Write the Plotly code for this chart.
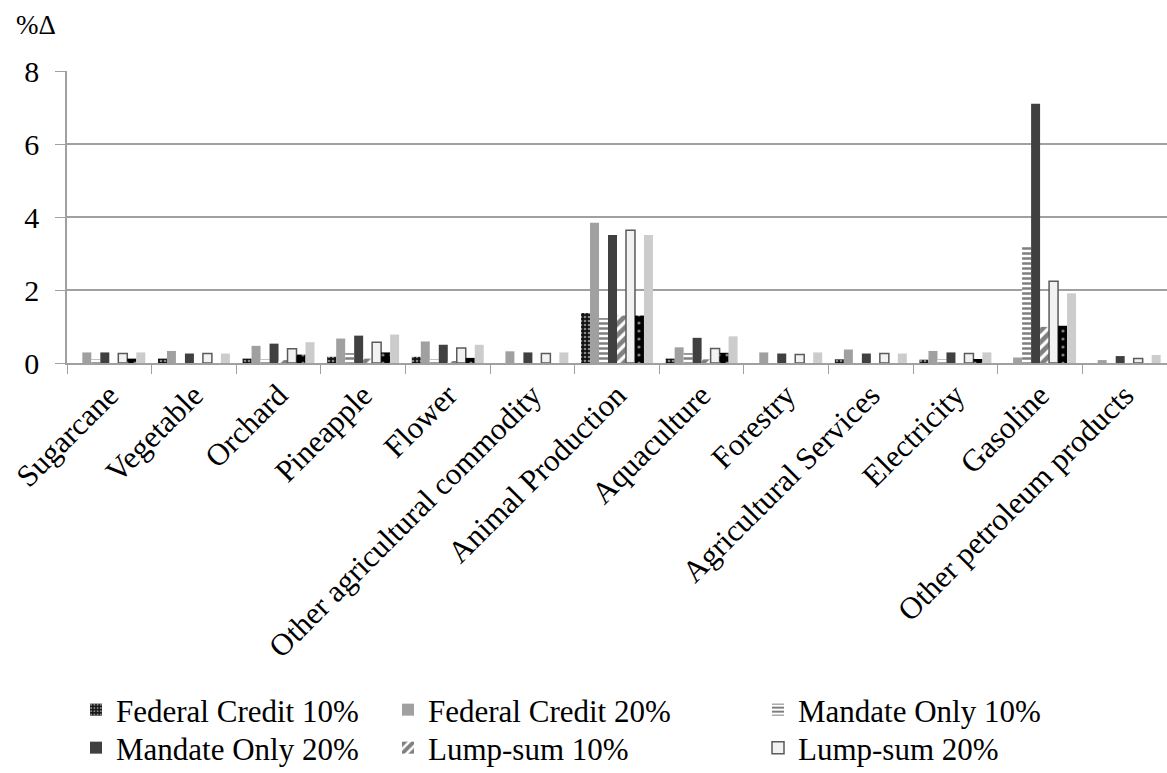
import plotly.graph_objects as go

categories = ["Sugarcane", "Vegetable", "Orchard", "Pineapple", "Flower",
              "Other agricultural commodity", "Animal Production", "Aquaculture",
              "Forestry", "Agricultural Services", "Electricity", "Gasoline",
              "Other petroleum products"]

federal_credit_10 = [0.0, 0.12, 0.12, 0.17, 0.17, 0.0, 1.37, 0.12, 0.0, 0.10, 0.09, 0.0, 0.0]
federal_credit_20 = [0.29, 0.33, 0.47, 0.67, 0.59, 0.32, 3.84, 0.43, 0.29, 0.37, 0.33, 0.15, 0.08]
mandate_only_10 = [0.10, 0.0, 0.10, 0.27, 0.10, 0.0, 1.23, 0.27, 0.0, 0.0, 0.10, 3.21, 0.0]
mandate_only_20 = [0.29, 0.26, 0.53, 0.75, 0.50, 0.29, 3.51, 0.69, 0.26, 0.26, 0.29, 7.10, 0.19]
lump_sum_10 = [0.0, 0.0, 0.08, 0.12, 0.05, 0.0, 1.30, 0.10, 0.0, 0.0, 0.0, 0.99, 0.0]
lump_sum_20 = [0.26, 0.26, 0.39, 0.57, 0.41, 0.26, 3.64, 0.40, 0.23, 0.26, 0.26, 2.24, 0.12]
series_7 = [0.12, 0.0, 0.23, 0.29, 0.14, 0.0, 1.30, 0.28, 0.0, 0.0, 0.11, 1.02, 0.0]
series_8 = [0.29, 0.26, 0.57, 0.78, 0.50, 0.29, 3.51, 0.73, 0.29, 0.26, 0.29, 1.91, 0.22]

y_ticks = [0, 2, 4, 6, 8]

FONT = "Liberation Serif, DejaVu Serif, serif"

fig = go.Figure()

def add(name, vals, color, legend, pattern=None, line_color=None, line_width=0, show=True):
    marker = dict(color=color, line=dict(color=line_color or color, width=line_width))
    if pattern:
        marker["pattern"] = pattern
    fig.add_trace(go.Bar(x=categories, y=vals, name=name, marker=marker,
                         legend=legend, showlegend=show))

add("Federal Credit 10%", federal_credit_10, "black", "legend",
    pattern=dict(shape=".", fgcolor="white", bgcolor="#111111", size=4, solidity=0.35, fillmode="overlay"))
add("Federal Credit 20%", federal_credit_20, "#a0a0a0", "legend2")
add("Mandate Only 10%", mandate_only_10, "white", "legend3",
    pattern=dict(shape="-", fgcolor="black", bgcolor="white", size=5, solidity=0.5, fillmode="overlay"))
add("Mandate Only 20%", mandate_only_20, "#404040", "legend4")
add("Lump-sum 10%", lump_sum_10, "white", "legend5",
    pattern=dict(shape="/", fgcolor="black", bgcolor="white", size=8, solidity=0.6, fillmode="overlay"))
add("Lump-sum 20%", lump_sum_20, "#f2f2f2", "legend6", line_color="#5a5a5a", line_width=1.5)
add("Scenario 7", series_7, "black", "legend",
    pattern=dict(shape=".", fgcolor="white", bgcolor="black", size=8, solidity=0.12, fillmode="overlay"),
    show=False)
add("Scenario 8", series_8, "#cccccc", "legend", show=False)

def leg(px, py):
    return dict(orientation="v", xref="container", yref="container",
                yanchor="middle", xanchor="left", x=px / 1167, y=1 - py / 773,
                font=dict(family=FONT, size=31, color="black"),
                bgcolor="rgba(0,0,0,0)", itemwidth=30)

col_x = [76, 388, 758]
row_y = [710, 748]

fig.update_layout(
    width=1167, height=773,
    margin=dict(l=67, r=0, t=71, b=410, autoexpand=False),
    paper_bgcolor="white", plot_bgcolor="white",
    barmode="group", bargap=0.15, bargroupgap=0,
    font=dict(family=FONT, color="black"),
    legend=leg(col_x[0], row_y[0]),
    legend2=leg(col_x[1], row_y[0]),
    legend3=leg(col_x[2], row_y[0]),
    legend4=leg(col_x[0], row_y[1]),
    legend5=leg(col_x[1], row_y[1]),
    legend6=leg(col_x[2], row_y[1]),
    xaxis=dict(showline=True, linecolor="#a0a0a0", linewidth=1.5, automargin=False,
               ticks="outside", tickson="boundaries", ticklen=9, tickcolor="#a0a0a0",
               tickangle=-45, tickfont=dict(family=FONT, size=31, color="black"),
               showgrid=False),
    yaxis=dict(range=[0, 8], tickvals=y_ticks, showline=True, linecolor="#a0a0a0",
               linewidth=1.5, ticks="outside", ticklen=10, tickcolor="#a0a0a0",
               automargin=False,
               showgrid=True, gridcolor="#a0a0a0", gridwidth=1.5, zeroline=False,
               tickfont=dict(family=FONT, size=30, color="black"), ticklabelstandoff=10),
    annotations=[dict(text="%Δ", xref="paper", yref="paper", x=(14 - 67) / 1100, y=1 + 46 / 292,
                      xanchor="left", yanchor="middle", showarrow=False,
                      font=dict(family=FONT, size=27, color="black"))],
)

fig.write_html("out.html")
